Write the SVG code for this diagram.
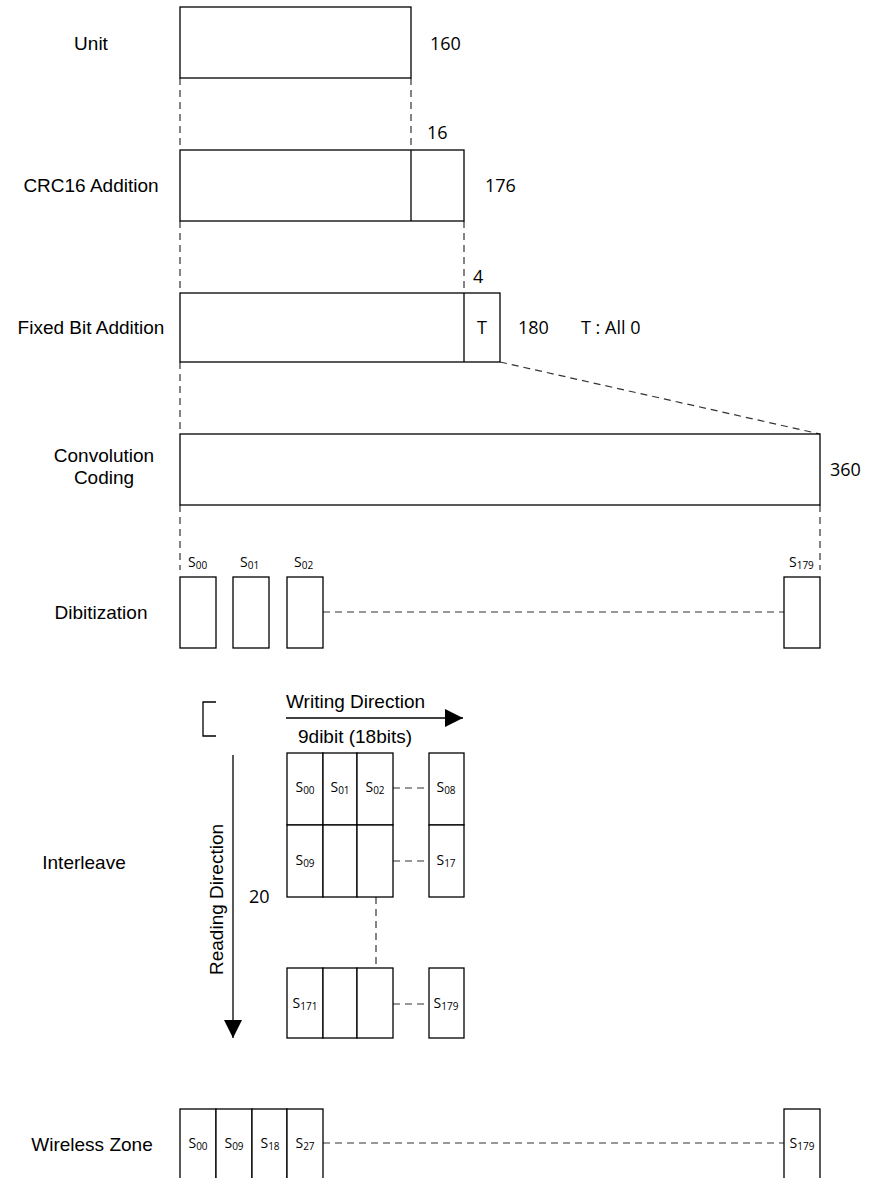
<svg xmlns="http://www.w3.org/2000/svg" width="878" height="1178" viewBox="0 0 878 1178">
<defs>
<style>
.box{fill:#fff;stroke:#000;stroke-width:1.3}
.ln{stroke:#000;stroke-width:1.3;fill:none}
.dash{stroke:#333;stroke-width:1.2;fill:none;stroke-dasharray:7 5}
.lbl{font-family:"Liberation Sans",Arial,sans-serif;font-size:19px;fill:#000}
.num{font-family:"Open Sans","Liberation Sans",sans-serif;font-size:18px;fill:#000}
.s{font-family:"Open Sans","Liberation Sans",sans-serif;font-size:14px;fill:#000}
.sub{font-size:10px}
</style>
<marker id="arr" viewBox="0 0 10 10" refX="10" refY="5" markerWidth="18" markerHeight="18" markerUnits="userSpaceOnUse" orient="auto">
<path d="M0,0 L10,5 L0,10 Z" fill="#000"/>
</marker>
</defs>
<rect width="878" height="1178" fill="#fff"/>

<g id="labels">
<text class="lbl" x="91" y="50" text-anchor="middle">Unit</text>
<text class="lbl" x="91" y="192" text-anchor="middle">CRC16 Addition</text>
<text class="lbl" x="91" y="334" text-anchor="middle">Fixed Bit Addition</text>
<text class="lbl" x="104" y="462" text-anchor="middle">Convolution</text>
<text class="lbl" x="104" y="484" text-anchor="middle">Coding</text>
<text class="lbl" x="101" y="619" text-anchor="middle">Dibitization</text>
<text class="lbl" x="84" y="869" text-anchor="middle">Interleave</text>
<text class="lbl" x="92" y="1151" text-anchor="middle">Wireless Zone</text>
</g>

<g id="connectors">
<line class="dash" x1="180" y1="78" x2="180" y2="150"/>
<line class="dash" x1="411" y1="78" x2="411" y2="150"/>
<line class="dash" x1="180" y1="221" x2="180" y2="293"/>
<line class="dash" x1="464" y1="221" x2="464" y2="293"/>
<line class="dash" x1="180" y1="362" x2="180" y2="434"/>
<line class="dash" x1="500" y1="362" x2="820" y2="434"/>
<line class="dash" x1="180" y1="505" x2="180" y2="570"/>
<line class="dash" x1="820" y1="505" x2="820" y2="570"/>
<line class="dash" x1="323" y1="612" x2="784" y2="612"/>
<line class="dash" x1="393" y1="788" x2="429" y2="788"/>
<line class="dash" x1="393" y1="861" x2="429" y2="861"/>
<line class="dash" x1="376" y1="897" x2="376" y2="968"/>
<line class="dash" x1="393" y1="1004" x2="429" y2="1004"/>
<line class="dash" x1="323" y1="1143" x2="784" y2="1143"/>
<line class="ln" x1="286" y1="718" x2="463" y2="718" marker-end="url(#arr)"/>
<line class="ln" x1="233" y1="755" x2="233" y2="1038" marker-end="url(#arr)"/>
<path class="ln" d="M216,702 H203 V736 H216" stroke-width="1"/>
</g>

<g id="unit">
<rect class="box" x="180" y="7" width="231" height="71"/>
<text class="num" x="430" y="50">160</text>
</g>

<g id="crc16">
<rect class="box" x="180" y="150" width="284" height="71"/>
<line class="ln" x1="411" y1="150" x2="411" y2="221"/>
<text class="num" x="427" y="139">16</text>
<text class="num" x="485" y="192">176</text>
</g>

<g id="fixedbit">
<rect class="box" x="180" y="293" width="320" height="69"/>
<line class="ln" x1="464" y1="293" x2="464" y2="362"/>
<text class="num" x="482" y="334" text-anchor="middle">T</text>
<text class="num" x="473" y="283">4</text>
<text class="num" x="518" y="334">180</text>
<text class="num" x="581" y="334">T : All 0</text>
</g>

<g id="convolution">
<rect class="box" x="180" y="434" width="640" height="71"/>
<text class="num" x="830" y="476">360</text>
</g>

<g id="dibitization">
<rect class="box" x="180" y="577" width="36" height="71"/>
<rect class="box" x="233" y="577" width="36" height="71"/>
<rect class="box" x="287" y="577" width="36" height="71"/>
<rect class="box" x="784" y="577" width="36" height="71"/>
<text class="s" x="188" y="567">S<tspan class="sub" dy="2">00</tspan></text>
<text class="s" x="240" y="567">S<tspan class="sub" dy="2">01</tspan></text>
<text class="s" x="294" y="567">S<tspan class="sub" dy="2">02</tspan></text>
<text class="s" x="789" y="567">S<tspan class="sub" dy="2">179</tspan></text>
</g>

<g id="interleave">
<text class="lbl" x="286" y="708">Writing Direction</text>
<text class="lbl" x="298" y="743">9dibit (18bits)</text>
<text class="lbl" transform="translate(223,975) rotate(-90)">Reading Direction</text>
<text class="num" x="249" y="903">20</text>
<rect class="box" x="287" y="753" width="36" height="72"/>
<rect class="box" x="323" y="753" width="34" height="72"/>
<rect class="box" x="357" y="753" width="36" height="72"/>
<rect class="box" x="429" y="753" width="35" height="72"/>
<rect class="box" x="287" y="825" width="36" height="72"/>
<rect class="box" x="323" y="825" width="34" height="72"/>
<rect class="box" x="357" y="825" width="36" height="72"/>
<rect class="box" x="429" y="825" width="35" height="72"/>
<rect class="box" x="287" y="968" width="36" height="70"/>
<rect class="box" x="323" y="968" width="34" height="70"/>
<rect class="box" x="357" y="968" width="36" height="70"/>
<rect class="box" x="429" y="968" width="35" height="70"/>
<text class="s" x="305" y="792" text-anchor="middle">S<tspan class="sub" dy="2">00</tspan></text>
<text class="s" x="340" y="792" text-anchor="middle">S<tspan class="sub" dy="2">01</tspan></text>
<text class="s" x="375" y="792" text-anchor="middle">S<tspan class="sub" dy="2">02</tspan></text>
<text class="s" x="446" y="792" text-anchor="middle">S<tspan class="sub" dy="2">08</tspan></text>
<text class="s" x="305" y="865" text-anchor="middle">S<tspan class="sub" dy="2">09</tspan></text>
<text class="s" x="446" y="865" text-anchor="middle">S<tspan class="sub" dy="2">17</tspan></text>
<text class="s" x="305" y="1008" text-anchor="middle">S<tspan class="sub" dy="2">171</tspan></text>
<text class="s" x="446" y="1008" text-anchor="middle">S<tspan class="sub" dy="2">179</tspan></text>
</g>

<g id="wireless">
<rect class="box" x="180" y="1109" width="36" height="80"/>
<rect class="box" x="216" y="1109" width="36" height="80"/>
<rect class="box" x="252" y="1109" width="35" height="80"/>
<rect class="box" x="287" y="1109" width="36" height="80"/>
<rect class="box" x="784" y="1109" width="36" height="80"/>
<text class="s" x="198" y="1148" text-anchor="middle">S<tspan class="sub" dy="2">00</tspan></text>
<text class="s" x="234" y="1148" text-anchor="middle">S<tspan class="sub" dy="2">09</tspan></text>
<text class="s" x="270" y="1148" text-anchor="middle">S<tspan class="sub" dy="2">18</tspan></text>
<text class="s" x="305" y="1148" text-anchor="middle">S<tspan class="sub" dy="2">27</tspan></text>
<text class="s" x="802" y="1148" text-anchor="middle">S<tspan class="sub" dy="2">179</tspan></text>
</g>
</svg>
